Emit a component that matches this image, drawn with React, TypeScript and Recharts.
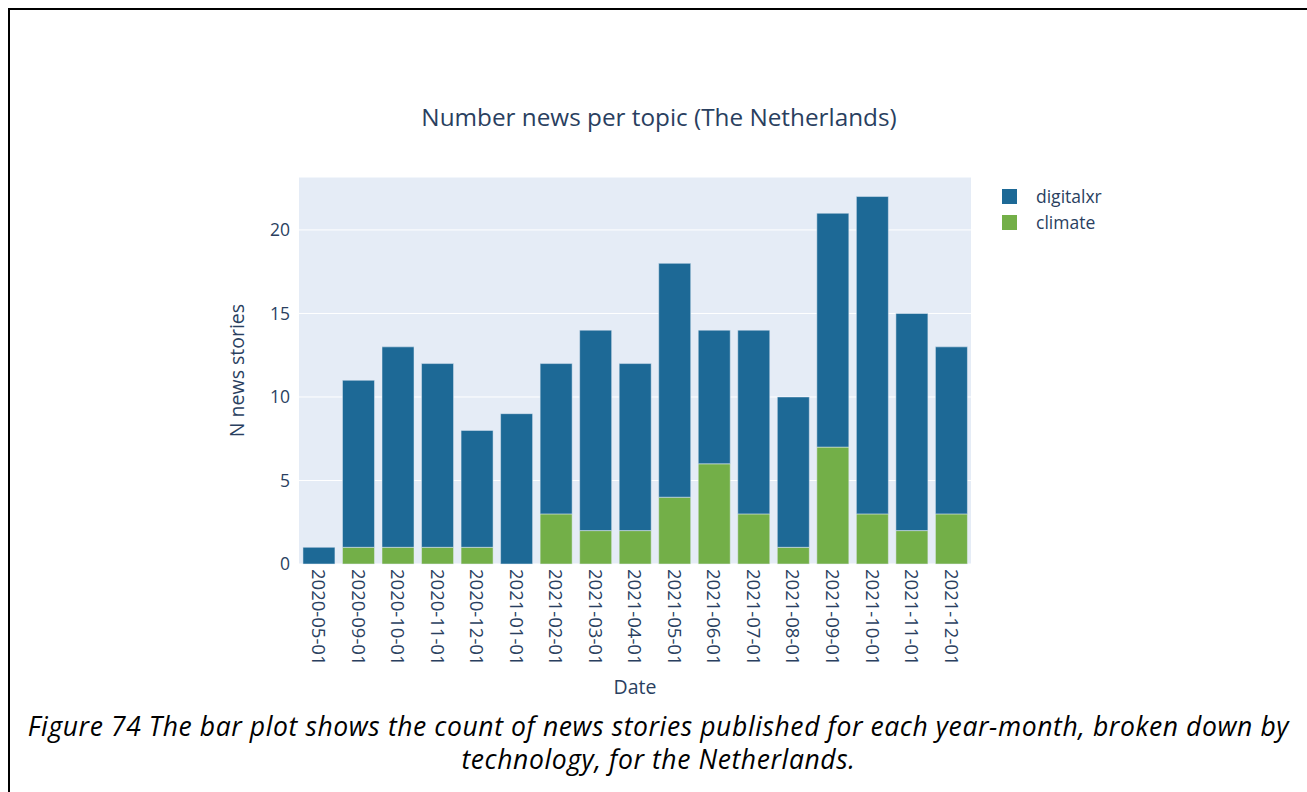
import { BarChart, Bar, XAxis, YAxis, CartesianGrid } from 'recharts';

// year-month buckets
const months = [
  '2020-05-01', '2020-09-01', '2020-10-01', '2020-11-01', '2020-12-01',
  '2021-01-01', '2021-02-01', '2021-03-01', '2021-04-01', '2021-05-01',
  '2021-06-01', '2021-07-01', '2021-08-01', '2021-09-01', '2021-10-01',
  '2021-11-01', '2021-12-01',
];

const climate = [0, 1, 1, 1, 1, 0, 3, 2, 2, 4, 6, 3, 1, 7, 3, 2, 3];
const digitalxr = [1, 10, 12, 11, 7, 9, 9, 12, 10, 14, 8, 11, 9, 14, 19, 13, 10];

const yTicks = [0, 5, 10, 15, 20];

const data = months.map((m, i) => ({
  date: m,
  climate: climate[i],
  digitalxr: digitalxr[i],
}));

const textColor = '#2a3f5f';
const font = '"Open Sans", sans-serif';

export default function App() {
  return (
    <div
      style={{
        position: 'absolute',
        left: 8,
        top: 8,
        width: 1299,
        height: 784,
        boxSizing: 'border-box',
        borderTop: '2px solid #000',
        borderLeft: '2px solid #000',
        background: '#fff',
        fontFamily: font,
      }}
    >
      <div style={{ position: 'absolute', left: -10, top: -10 }}>
        <BarChart
          width={1307}
          height={720}
          data={data}
          margin={{ top: 177, right: 336, bottom: 46, left: 239 }}
          barCategoryGap="10%"
        >
          <CartesianGrid fill="#E5ECF6" stroke="#fff" vertical={false} strokeWidth={1} />
          <XAxis
            dataKey="date"
            interval={0}
            height={110}
            axisLine={false}
            tickLine={false}
            tickSize={0}
            tickMargin={5}
            angle={90}
            textAnchor="start"
            tick={{ fill: textColor, fontSize: 18.5, fontFamily: font, dx: 6.5 } as any}
            label={{ value: 'Date', position: 'insideBottom', offset: -20, fill: textColor, fontSize: 19.5, fontFamily: font }}
          />
          <YAxis
            width={60}
            domain={[0, 23.17]}
            ticks={yTicks}
            axisLine={false}
            tickLine={false}
            tickSize={0}
            tickMargin={9}
            tick={{ fill: textColor, fontSize: 17.5, fontFamily: font }}
            label={{ value: 'N news stories', angle: -90, position: 'insideLeft', offset: -2, fill: textColor, fontSize: 19.5, fontFamily: font, style: { textAnchor: 'middle' } }}
          />
          <Bar dataKey="climate" stackId="a" fill="#73AF48" stroke="#E5ECF6" strokeWidth={0.5} isAnimationActive={false} />
          <Bar dataKey="digitalxr" stackId="a" fill="#1D6996" stroke="#E5ECF6" strokeWidth={0.5} isAnimationActive={false} />
        </BarChart>
      </div>

      {/* title */}
      <span
        style={{
          position: 'absolute',
          left: 649,
          top: 90,
          transform: 'translateX(-50%)',
          whiteSpace: 'nowrap',
          fontSize: 24.3,
          color: textColor,
        }}
      >
        Number news per topic (The Netherlands)
      </span>

      {/* legend */}
      <div style={{ position: 'absolute', left: 992, top: 173, fontSize: 17.5, color: textColor }}>
        {[
          { name: 'digitalxr', color: '#1D6996' },
          { name: 'climate', color: '#73AF48' },
        ].map((s) => (
          <div key={s.name} style={{ display: 'flex', alignItems: 'center', height: 26 }}>
            <span style={{ display: 'inline-block', width: 15, height: 15, background: s.color, marginRight: 19 }} />
            <span>{s.name}</span>
          </div>
        ))}
      </div>

      {/* caption */}
      <div
        style={{
          position: 'absolute',
          left: 0,
          width: 1297,
          top: 700,
          textAlign: 'center',
          fontStyle: 'italic',
          fontSize: 26.5,
          letterSpacing: 0.6,
          lineHeight: '33px',
          color: '#000',
          whiteSpace: 'nowrap',
        }}
      >
        Figure 74 The bar plot shows the count of news stories published for each year-month, broken down by
        <br />
        technology, for the Netherlands.
      </div>
    </div>
  );
}
